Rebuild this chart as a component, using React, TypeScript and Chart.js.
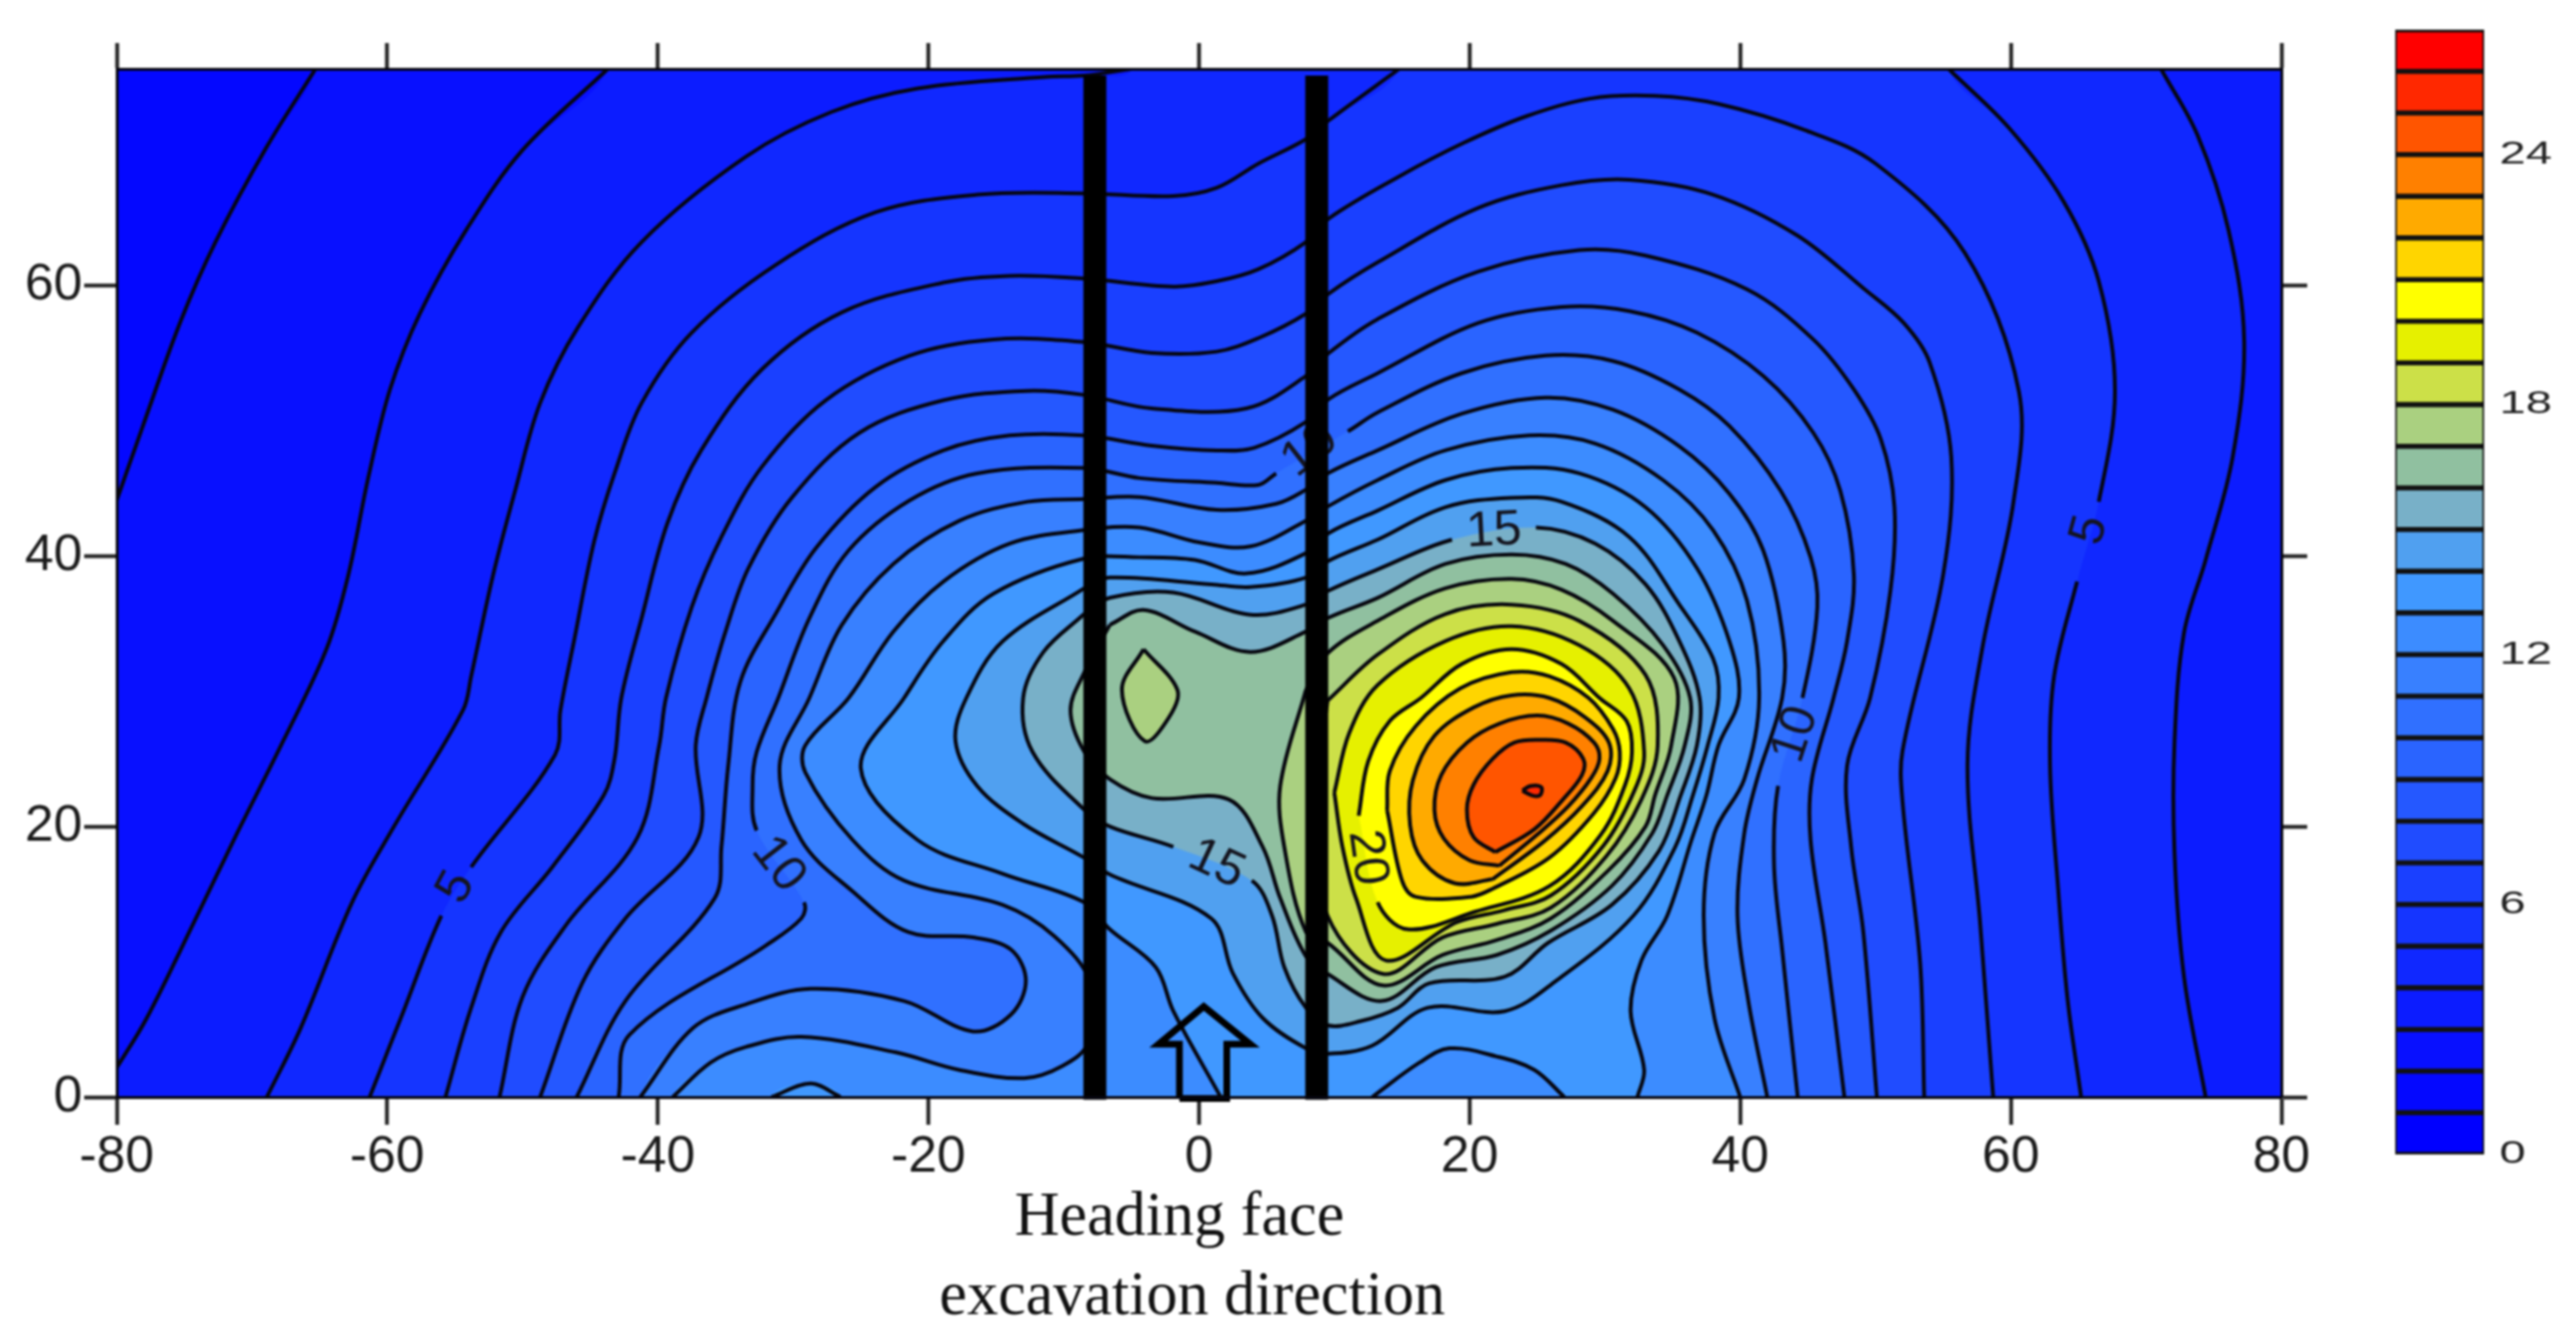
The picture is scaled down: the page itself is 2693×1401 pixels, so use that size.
import React, { useEffect, useRef } from "react";
import { Chart, registerables } from "chart.js";

Chart.register(...registerables);

type P = [number, number];

// Colour of each one-unit class on the scale bar (0..27)
const classColors = ["#0000ff","#0408ff","#0810ff","#0c1cff","#1028ff","#1535ff","#1a40ff","#204cff","#2558ff","#2a64ff","#3070ff","#3880ff","#3c8cff","#4098ff","#50a0f0","#78b0c8","#90c0a0","#aad080","#cce048","#e6f000","#ffff00","#ffd500","#ffaa00","#ff8000","#ff5500","#ff2800","#ff0000"];
const barTicks = [0, 6, 12, 18, 24];

// Contours, in plot coordinates (metres)
const c2: P[] = [[-80.14,43.7],[-78.1,49.5],[-75.25,57.4],[-72.7,63.2],[-68.9,70.25],[-65.3,76]];
const c3: P[] = [[-80.1,2],[-77.8,5.8],[-74.3,12.9],[-71.1,19.5],[-67.7,26.3],[-64.5,33.1],[-62.9,38.5],[-61.4,45.8],[-59.8,52.3],[-57.6,57.9],[-54.1,64.2],[-50,70],[-43.7,76]];
const c4: P[] = [[-68.9,0],[-66.4,5.1],[-62.6,14.4],[-59.5,20],[-54.4,28.6],[-53.8,31.1],[-52.2,38.5],[-50.5,45],[-48.7,51.3],[-45.9,56.9],[-41.2,63.2],[-33.5,69.5],[-27.2,72.8],[-20.8,74.55],[-11.4,75.4],[-8.5,75.5],[-5,76]];
const c4b: P[] = [[71.1,76],[73.8,71.1],[76.1,64.05],[77.25,55.9],[76.4,47.3],[74.4,39.7],[72.8,34.3],[72.1,26.2],[72.1,18.1],[72.8,8.9],[74.4,0]];
const c5: P[] = [[-61.3,0],[-58.8,6.35],[-56,13.4],[-53.8,17],[-47.6,25.3],[-47.2,28.6],[-46.2,33.7],[-44.7,41.1],[-43.2,46.1],[-41.2,51.3],[-37.5,56.5],[-31.3,61.5],[-23.9,65.4],[-16.4,66.7],[-8.5,66.8],[-1.9,66.6],[1.3,67.2],[4.4,69],[7.9,70.8],[9.6,72.2],[14.8,76]];
const c5b: P[] = [[55.4,76],[59.9,71.6],[63.9,66.2],[66.5,60.3],[67.7,52.2],[66.5,44],[64.9,38.1],[63.2,31.1],[62.9,24.5],[63.5,15.4],[64.2,7.2],[65.2,0]];
const c6: P[] = [[-55.7,0],[-53.8,6.6],[-51.6,12.2],[-47.8,17],[-44,22.3],[-43.2,25],[-42.7,29.5],[-41.2,35.4],[-39.3,42.4],[-36.8,47.8],[-32.3,53.8],[-26.4,58],[-18.9,60.2],[-14,60.7],[-8.5,60.5],[-1.9,59.9],[1.3,60.3],[4.4,61.2],[7.9,63.2],[9.6,64.95],[14.7,68],[19.5,70.5],[24.2,72.5],[28.9,73.8],[33.7,74],[38.4,73.4],[44.7,71.5],[50,69],[56.6,62.4],[60.6,52.15],[60.2,44],[57.9,33.2],[56.8,24.6],[57.75,12.65],[58.7,0]];
const c7: P[] = [[-51.7,0],[-50,7.4],[-46.8,12.7],[-41.5,19.2],[-39.9,26],[-39.4,29.5],[-37.5,36.2],[-35.3,41.4],[-32.3,46.6],[-27.6,51.5],[-21.4,54.8],[-15.2,56],[-8.5,55.8],[-3.5,55],[1.3,55.1],[4.4,56.1],[7.9,57.9],[9.6,59.4],[13.2,61.7],[20.6,65.7],[26.8,67.4],[31.8,67.8],[38,66.7],[44.2,63.7],[49.2,59.7],[52.1,57.2],[54,54.3],[55.6,47.3],[55,38.6],[52,25.6],[52,21.8],[53.3,9.9],[53.6,0]];
const c8: P[] = [[-48.7,0],[-45.6,8.4],[-42.4,13.2],[-37,19.2],[-37.2,26],[-36.4,29.5],[-35,34.4],[-33.3,39.1],[-30.1,44.3],[-25.1,49.1],[-18.9,51.5],[-12.7,52.2],[-8.5,51.9],[-3.5,50.9],[3.5,50.9],[7.9,53.3],[9.6,55],[13.2,57.5],[20.6,61],[28.1,62.6],[33,62.2],[40.5,59.7],[45.4,56],[48.4,52.3],[50.4,48.6],[51.4,43.6],[51.1,37.4],[49.6,29.5],[47.9,24.5],[48.2,18.5],[49.1,12.2],[50.1,0]];
const c9: P[] = [[-46,0],[-42.4,7.1],[-35.8,14.7],[-35.3,18.5],[-34.8,24.5],[-33.9,30.7],[-31.3,35.7],[-28.3,40.6],[-23.9,45.1],[-18.9,47.8],[-14,48.9],[-8.5,48.9],[-3.5,48.15],[1.3,47.8],[4.1,48],[7.9,49.9],[9.6,51.6],[13.2,53.5],[20.6,57.2],[26.8,58.4],[31.8,58.1],[36.8,56.5],[41.7,53.3],[45.4,49.1],[47.4,44.8],[48.4,38.6],[47.9,33.7],[46.9,29.5],[45.3,23.5],[45.2,19],[46.3,11.4],[47.7,0]];
const c10: P[] = [[-42.9,0],[-42.1,4.6],[-32.1,11.15],[-29.4,13.2],[-29.2,14.4],[-32.7,19.7],[-33,23],[-32.7,25.5],[-31.1,29.5],[-28.8,35.4],[-25.9,40.4],[-21.4,44.1],[-16.4,46.1],[-8.5,46.5],[-4.4,45.75],[1.3,45.4],[4.4,45.25],[5.7,46.1],[11,49.2],[13.2,50.6],[19.4,53.5],[25.6,54.8],[30.6,54.4],[35.5,52.3],[39.2,49.6],[43,44.8],[45.2,39.9],[45.7,36.2],[44.6,29.5],[42.8,23],[42.5,17.2],[43.1,10.9],[44.25,0]];
const c11: P[] = [[-41.3,0],[-37.4,5.1],[-33.5,6.85],[-28.7,8],[-21.8,7.1],[-16.7,4.85],[-13.9,6.1],[-12.8,8.6],[-13.9,10.9],[-16.7,11.8],[-21.5,12.2],[-25.6,15.2],[-29.4,19],[-31,24.5],[-28.8,29.5],[-26.4,34.9],[-22.6,39.4],[-17.7,42.6],[-12.7,44],[-8.5,44.2],[-4.4,44.35],[1.3,43.4],[5.7,43.85],[7.9,44.9],[9.6,46.15],[13.2,47.8],[19.4,50.5],[25.6,51.7],[30.6,50.8],[35.5,48.1],[39.2,44.6],[41.7,40.4],[43.2,33.7],[43.1,29.5],[41.25,23.5],[40.3,19.5],[39.8,13.4],[40.6,7.1],[42,0]];
const c12: P[] = [[-38.9,0],[-36.1,2.55],[-33.5,3.7],[-29.4,4.45],[-22.4,3.3],[-17.7,2],[-12.9,1.4],[-10.1,2.3],[-8.2,4],[-8,8.4],[-10.7,11.9],[-14.5,14.2],[-21.8,16],[-25.6,19],[-29.1,24],[-29.1,26],[-25.9,29.5],[-22.6,34.4],[-18.9,38.1],[-14,40.9],[-8.5,41.9],[-4.4,42.1],[0,41],[3.8,40.7],[7.9,42.6],[9.6,43.7],[13.2,45.6],[18.2,47.8],[24.4,48.9],[29.3,48.3],[34.3,45.6],[38,41.9],[40.5,36.7],[41.4,29.5],[40.3,23.5],[38.1,19.5],[37.3,13.4],[38.1,5.8],[40,0]];
const c13: P[] = [[1.6,0],[-1.9,6.35],[-3.2,9.6],[-6.6,12.4],[-8.5,14.4],[-14.5,16.5],[-20.8,19],[-25,24.3],[-21.8,29.5],[-18.9,33.7],[-15.2,37.2],[-8.5,39.8],[-4.4,39.9],[-0.3,39.7],[3.5,38.7],[7.9,40.2],[9.6,41.7],[13.2,43.35],[18.2,45.6],[23.1,46.5],[28.1,46.1],[33,43.6],[36.8,39.1],[39.2,33.7],[39.9,29.5],[38.4,26],[37.5,22.3],[36.4,19],[34.6,13.4],[32.7,10.1],[31.9,6.35],[32.9,2],[32.4,0]];
const c13b: P[] = [[27,0],[24.8,2],[22,3],[18.5,3.6],[16.3,2.55],[12.8,0]];
const c13c: P[] = [[-31.6,0],[-28.7,1],[-26.5,0]];
const c14: P[] = [[-8.5,37.6],[-14.5,33.7],[-17.2,29.5],[-18,26.3],[-16.4,23],[-13,20.2],[-8.5,17.7],[-6.6,16.45],[0.9,13.2],[2.5,9.15],[4.7,5.85],[7.9,3.6],[9.5,3.2],[12.8,3.8],[16.9,6.6],[22.6,6.35],[26.4,8.6],[32.1,13.4],[35.2,18.5],[36.5,22.3],[37.6,26],[38.4,29.5],[38,32.4],[35.5,36.4],[31.8,41.4],[26.8,44],[23.1,44.3],[18.2,43.6],[13.2,41.2],[9.5,39.6],[7.9,38.4],[3.8,37.7],[0.9,37.9],[-6.6,38.4],[-8.5,37.6]];
const c15: P[] = [[-8.5,35.7],[-11.5,32.9],[-13,29.5],[-12.3,25.5],[-8.5,21.25],[-6.6,20],[-1.9,18.5],[3.9,16],[5.4,13.4],[6.3,9.6],[7.9,6.6],[9.5,5.3],[11.9,5.6],[14.7,6.6],[17,8.4],[22.6,8.9],[25.8,11.4],[30.5,14.2],[34,18.2],[35.6,22.3],[36.8,26],[37,29.5],[35.5,33.7],[33,37.9],[29.3,40.9],[24.9,42.1],[18.7,41.2],[13.2,39],[9.5,37.4],[7.9,36.4],[3.8,35.65],[-1.9,37.3],[-6.6,36.9],[-8.5,35.7]];
const c16: P[] = [[-6.6,34.9],[-4.1,36],[-0.3,34.4],[3.8,32.9],[7.9,34.4],[9.5,35.4],[13.2,36.9],[18.2,39.4],[23.1,40.1],[27.1,39.4],[30.6,37.2],[34.3,33.4],[36.3,29.5],[35.9,26],[34.6,22.3],[33.5,19.5],[30.5,15.6],[26,12.3],[22,10.5],[17.5,9.6],[13.5,7.1],[9.5,9.1],[7.9,10.4],[6,14.7],[4.7,18.5],[2.2,22],[-3.5,22.1],[-6.6,23.5],[-8.5,25.55],[-9.5,28.6],[-8.5,31.35],[-6.6,34.9]];
const c17: P[] = [[7.9,30.1],[9.5,32.8],[13.2,35.2],[18.2,37.6],[23.1,38.3],[26.8,37.5],[30.6,35.2],[35.1,31],[34.9,26],[33.7,22.3],[33,20],[30.3,16.8],[26,13.2],[22,11.6],[18,10.5],[13.6,8.25],[9.5,11.4],[7.9,12.2],[6.3,18.5],[6,23],[7.9,30.1]];
const c17b: P[] = [[-4.1,33.1],[-1.6,30.1],[-2.2,28.1],[-4,26.3],[-5.7,30.1],[-4.1,33.1]];
const c18: P[] = [[9.5,29.3],[13.2,32.7],[18.2,35.7],[23.1,36.4],[28.1,35.2],[33,31.2],[33.9,26],[32.7,22],[30.1,17.8],[26,14],[22,12.8],[18,11.8],[13.6,9.1],[9.5,13.4],[8.5,21],[9.5,29.3]];
const c19: P[] = [[10,22.5],[11.1,26.9],[13.2,30.45],[18.2,33.7],[23.1,34.8],[28.1,33.4],[31.8,30.2],[32.9,25.5],[32.2,22.7],[29.9,18.6],[26,14.9],[22.5,13.8],[19,12.9],[13.8,10.1],[11.6,14.7],[10.6,18.5],[10,22.5]];
const c20: P[] = [[11.8,20.8],[12.5,24.8],[14.1,27.8],[16.4,29.5],[19.4,32],[23.1,33.1],[26.8,32],[29.6,29.5],[31.6,27.8],[32,25.5],[31.5,23.1],[29.7,19.4],[25.9,15.6],[20.4,13.7],[15.4,12.4],[13.2,14.4],[11.8,20.8]];
const c21: P[] = [[13.9,21.2],[14.1,24.1],[16,27.4],[19.3,30.2],[23.1,31.4],[25.9,31.1],[28.8,29.5],[30.6,27.2],[31.1,25.5],[30.8,23.6],[29.2,21],[25.9,17.7],[21.7,15.4],[20.1,14.8],[16,14.8],[15,16],[13.9,21.2]];
const c22: P[] = [[21.7,16.1],[18.9,15.8],[16.5,17.5],[15.6,20.1],[15.8,23.4],[17.4,26.7],[20.3,28.8],[23.1,29.7],[25.9,29.5],[28.5,28.1],[30.3,26.2],[30.2,24.1],[28.3,21.5],[25.5,18.9],[21.7,16.1]];
const c23: P[] = [[22.2,17.1],[20,17.5],[18.1,19.1],[17.4,21.2],[17.9,23.8],[19.8,26.2],[22.2,27.6],[25,28.2],[27.3,27.6],[29.2,26.2],[29.6,25],[29,23.6],[27.3,21.5],[25,19.4],[22.2,17.1]];
const c24: P[] = [[21.9,18.1],[20.3,19.2],[19.8,21.25],[20.3,23.1],[21.7,25],[23.3,26.2],[25.2,26.4],[27.1,26.2],[28.4,25],[28.3,23.8],[26.9,22],[24.8,19.8],[21.9,18.1]];
const c25: P[] = [[23.9,22.65],[24.5,23],[25.3,22.9],[25.2,22.3],[24.6,22.3],[23.9,22.65]];

// Contour labels: text, position, tilt (deg), half-width of the break in the line (metres)
const labelLevels = [5, 5, 10, 10, 10, 15, 15, 20];
const labelXs = [-54.9, 65.85, -31.1, 44.1, 8.2, 1.3, 21.8, 12.4];
const labelYs = [15.5, 41.9, 17.2, 26.8, 47.8, 17.2, 41.8, 17.7];
const labelAngles = [-62, -75, 52, -72, -38, 25, -3, 82];
const labelGaps = [2.2, 2.5, 3, 3, 3, 3.3, 3.3, 3.3];

// The two roadway ribs and the arrow of the heading direction
const ribLeft: P[] = [[-7.7, -0.2], [-7.7, 75.5]];
const ribRight: P[] = [[8.7, -0.2], [8.7, 75.5]];
const arrow: P[] = [[-1.45,-0.1],[-1.45,3.9],[-3.0,3.9],[0.35,6.7],[3.8,3.9],[2.05,3.9],[2.05,-0.1],[-1.45,-0.1]];

const xRange = [-80, 80];
const yRange = [0, 76];
const titleLines = ["Heading face", "excavation direction"];

const below = (x: number): P => [x, -6];
const above = (x: number): P => [x, 84];
const open = (l: P[]): P[] => [below(l[0][0]), ...l, below(l[l.length - 1][0])];

const levels: { level: number; fill: P[]; lines: P[][] }[] = [
  { level: 1, fill: [[-90, -6], [90, -6], [90, 84], [-90, 84]], lines: [] },
  { level: 2, fill: [[-90, 20], ...c2, above(-65.3), [90, 84], [90, -6], [-90, -6]], lines: [c2] },
  { level: 3, fill: [[-90, -10], ...c3, above(-43.7), [90, 84], [90, -6]], lines: [c3] },
  { level: 4, fill: [below(-68.9), ...c4, above(-5), above(71.1), ...c4b, below(74.4)], lines: [c4, c4b] },
  { level: 5, fill: [below(-61.3), ...c5, above(14.8), above(55.4), ...c5b, below(65.2)], lines: [c5, c5b] },
  { level: 6, fill: open(c6), lines: [c6] },
  { level: 7, fill: open(c7), lines: [c7] },
  { level: 8, fill: open(c8), lines: [c8] },
  { level: 9, fill: open(c9), lines: [c9] },
  { level: 10, fill: open(c10), lines: [c10] },
  { level: 11, fill: open(c11), lines: [c11] },
  { level: 12, fill: open(c12), lines: [c12] },
  { level: 13, fill: [below(1.6), ...c13, below(32.4), below(27), ...c13b, below(12.8)], lines: [c13, c13b] },
  { level: 13, fill: open(c13c), lines: [c13c] },
  { level: 14, fill: c14, lines: [c14] },
  { level: 15, fill: c15, lines: [c15] },
  { level: 16, fill: c16, lines: [c16] },
  { level: 17, fill: c17, lines: [c17] },
  { level: 17, fill: c17b, lines: [c17b] },
  { level: 18, fill: c18, lines: [c18] },
  { level: 19, fill: c19, lines: [c19] },
  { level: 20, fill: c20, lines: [c20] },
  { level: 21, fill: c21, lines: [c21] },
  { level: 22, fill: c22, lines: [c22] },
  { level: 23, fill: c23, lines: [c23] },
  { level: 24, fill: c24, lines: [c24] },
  { level: 25, fill: c25, lines: [c25] },
];

const inGap = (level: number, a: any, b: any) => {
  const mx = (a.x + b.x) / 2, my = (a.y + b.y) / 2;
  return labelLevels.some((l, i) => l === level && Math.hypot(mx - labelXs[i], my - labelYs[i]) < labelGaps[i]);
};

const toXY = (l: P[]) => l.map(([x, y]) => ({ x, y }));

export default function App() {
  const mainRef = useRef<HTMLCanvasElement>(null);
  const barRef = useRef<HTMLCanvasElement>(null);

  useEffect(() => {
    document.body.style.margin = "0";
    document.body.style.overflow = "hidden";
    document.body.style.background = "#fff";

    const datasets: any[] = [];
    levels.forEach((l, i) => {
      datasets.push({
        label: `fill ${l.level}`, data: toXY(l.fill), showLine: true, pointRadius: 0,
        borderWidth: 0, borderColor: "transparent", backgroundColor: classColors[l.level],
        fill: "shape", tension: 0.35, capBezierPoints: false, order: 1000 - i,
      });
      l.lines.forEach((line) => {
        datasets.push({
          label: `contour ${l.level}`, data: toXY(line), showLine: true, pointRadius: 0,
          borderWidth: 4, borderColor: "#06060e", fill: false, tension: 0.35, capBezierPoints: false, order: 100,
          segment: { borderColor: (ctx: any) => (inGap(l.level, ctx.p0.parsed, ctx.p1.parsed) ? "transparent" : undefined) },
        });
      });
    });
    const straight = { showLine: true, pointRadius: 0, fill: false, tension: 0, borderColor: "#000", clip: false };
    datasets.push({ ...straight, label: "rib left", data: toXY(ribLeft), borderWidth: 24, order: 5 });
    datasets.push({ ...straight, label: "rib right", data: toXY(ribRight), borderWidth: 24, order: 4 });
    datasets.push({ ...straight, label: "arrow", data: toXY(arrow), borderWidth: 7, order: 3, borderJoinStyle: "miter" });

    const labelsPlugin = {
      id: "contourLabels",
      beforeDatasetDraw(chart: any, args: any) {
        if (chart.data.datasets[args.index].label !== "rib left") return;
        const { ctx, scales } = chart;
        ctx.save();
        ctx.font = '52px "Liberation Sans"';
        ctx.fillStyle = "#14141e";
        ctx.textAlign = "center";
        ctx.textBaseline = "middle";
        labelLevels.forEach((t, i) => {
          ctx.save();
          ctx.translate(scales.x.getPixelForValue(labelXs[i]), scales.y.getPixelForValue(labelYs[i]));
          ctx.rotate((labelAngles[i] * Math.PI) / 180);
          ctx.fillText(String(t), 0, 0);
          ctx.restore();
        });
        ctx.restore();
      },
      afterDraw(chart: any) {
        const { ctx, scales, chartArea } = chart;
        ctx.save();
        ctx.font = '65px "Liberation Serif"';
        ctx.fillStyle = "#111";
        ctx.textAlign = "center";
        ctx.textBaseline = "alphabetic";
        ctx.fillText(titleLines[0], scales.x.getPixelForValue(-1.45), chartArea.bottom + 144);
        ctx.fillText(titleLines[1], scales.x.getPixelForValue(-0.5), chartArea.bottom + 227);
        ctx.restore();
      },
    };

    const tickFont = { family: '"Liberation Sans"', size: 54 };
    const grid = (len: number) => ({ drawOnChartArea: false, tickLength: len, tickWidth: 4, tickColor: "#222" });
    const border = { display: true, color: "#05050f", width: 3, z: 2 };

    const main = new Chart(mainRef.current!, {
      type: "scatter",
      data: { datasets },
      plugins: [labelsPlugin],
      options: {
        responsive: false, animation: false, events: [],
        layout: { padding: 0 },
        plugins: { legend: { display: false }, tooltip: { enabled: false } },
        scales: {
          x: {
            type: "linear", position: "bottom", min: xRange[0], max: xRange[1],
            ticks: { stepSize: 20, font: tickFont, color: "#1a1a1a", padding: 2, maxRotation: 0 },
            grid: grid(29), border, afterFit: (s: any) => { s.height = 254; },
          },
          y: {
            type: "linear", position: "left", min: yRange[0], max: yRange[1],
            ticks: { stepSize: 20, includeBounds: false, font: tickFont, color: "#1a1a1a", padding: 2 },
            grid: grid(34), border, afterFit: (s: any) => { s.width = 122; },
          },
          xTop: {
            type: "linear", position: "top", min: xRange[0], max: xRange[1],
            ticks: { stepSize: 20, display: false }, grid: grid(27), border,
            afterFit: (s: any) => { s.height = 72; },
          },
          yRight: {
            type: "linear", position: "right", min: yRange[0], max: yRange[1],
            ticks: { stepSize: 20, includeBounds: false, display: false }, grid: grid(27), border,
            afterFit: (s: any) => { s.width = 308; },
          },
        },
      } as any,
    });

    const barLabels = {
      id: "barLabels",
      afterDraw(chart: any) {
        const { ctx, scales, chartArea } = chart;
        ctx.save();
        ctx.font = '34px "Liberation Sans"';
        ctx.fillStyle = "#222";
        ctx.textAlign = "left";
        ctx.textBaseline = "middle";
        barTicks.forEach((t) => {
          ctx.save();
          ctx.translate(chartArea.right + 16, scales.y.getPixelForValue(t));
          ctx.scale(1.45, 1);
          ctx.fillText(String(t), 0, 0);
          ctx.restore();
        });
        ctx.restore();
      },
    };

    const bar = new Chart(barRef.current!, {
      type: "bar",
      data: {
        labels: [""],
        datasets: classColors.map((c, i) => ({
          data: [[i, i + 1]] as any,
          backgroundColor: c, borderColor: "#111", borderWidth: { top: 3, bottom: 3, left: 2, right: 2 } as any,
          borderSkipped: false, barPercentage: 1, categoryPercentage: 1,
        })),
      },
      plugins: [barLabels],
      options: {
        responsive: false, animation: false, events: [],
        layout: { padding: { top: 31, bottom: 34, left: 4, right: 96 } },
        plugins: { legend: { display: false }, tooltip: { enabled: false } },
        scales: {
          x: { stacked: true, display: false },
          y: { display: false, min: 0, max: 27 },
        },
      } as any,
    });

    return () => { main.destroy(); bar.destroy(); };
  }, []);

  return (
    <div style={{ position: "relative", width: 2693, height: 1401 }}>
      <canvas ref={mainRef} width={2693} height={1401} style={{ position: "absolute", left: 0, top: 0, filter: "blur(0.8px)" }} />
      <canvas ref={barRef} width={193} height={1241} style={{ position: "absolute", left: 2500, top: 0, filter: "blur(0.8px)" }} />
    </div>
  );
}
